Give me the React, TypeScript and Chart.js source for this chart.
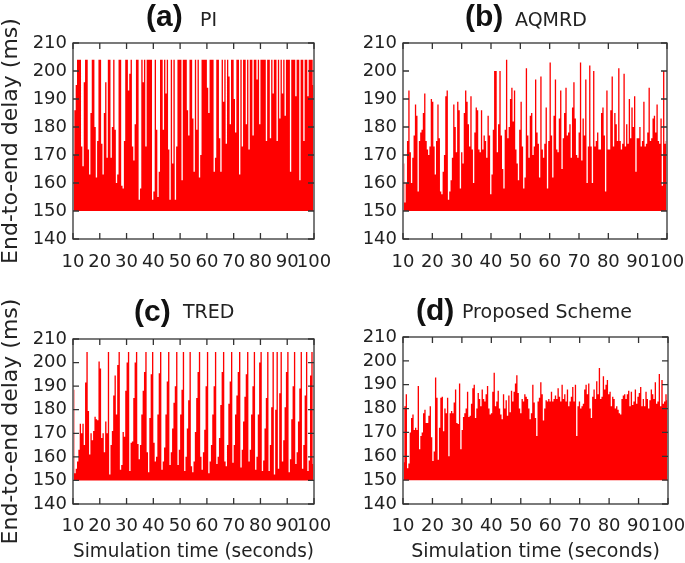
import React, { useEffect, useRef } from "react";
import { Chart, registerables } from "chart.js";

Chart.register(...registerables);

// ---- axes ----
const X_MIN = 10;
const X_MAX = 100;
const Y_MIN = 140;
const Y_MAX = 210;
const X_TICKS = [10, 20, 30, 40, 50, 60, 70, 80, 90, 100];
const Y_TICKS = [140, 150, 160, 170, 180, 190, 200, 210];
const BASE_DELAY = 150;

// ---- series: end-to-end delay (ms), evenly sampled over 10..100 s ----
const piDelay = [
  170, 186, 195, 204, 204, 204, 173, 166, 196, 204,
  204, 172, 163, 185, 204, 204, 180, 162, 175, 204,
  204, 174, 163, 185, 196, 169, 204, 204, 169, 180,
  204, 179, 160, 163, 204, 204, 159, 158, 175, 204,
  204, 193, 199, 204, 173, 168, 181, 204, 204, 154,
  158, 204, 196, 204, 173, 204, 204, 204, 204, 154,
  157, 204, 179, 155, 164, 204, 204, 179, 204, 192,
  204, 172, 154, 204, 167, 204, 154, 173, 204, 204,
  204, 161, 204, 204, 204, 186, 177, 204, 204, 183,
  164, 204, 179, 204, 162, 170, 204, 204, 204, 204,
  194, 185, 204, 204, 204, 164, 169, 204, 204, 176,
  164, 204, 189, 204, 174, 204, 198, 181, 204, 204,
  190, 178, 204, 204, 163, 204, 173, 204, 204, 181,
  204, 172, 204, 204, 177, 204, 204, 197, 204, 181,
  204, 204, 204, 204, 175, 204, 204, 176, 204, 192,
  204, 204, 175, 204, 183, 204, 192, 204, 184, 204,
  204, 204, 164, 204, 204, 204, 191, 204, 204, 161,
  204, 204, 175, 204, 204, 191, 204, 204, 204, 195,
];

const aqmrdDelay = [
  167, 153, 160, 175, 193, 171, 160, 169, 177, 188,
  184, 157, 175, 178, 179, 185, 192, 175, 172, 170,
  173, 190, 189, 173, 163, 175, 188, 176, 157, 156,
  164, 170, 191, 193, 154, 157, 161, 169, 188, 180,
  171, 189, 186, 158, 171, 167, 185, 193, 189, 181,
  173, 191, 172, 160, 178, 187, 186, 172, 171, 186,
  172, 177, 175, 169, 184, 177, 156, 163, 179, 200,
  200, 171, 181, 200, 177, 165, 158, 179, 204, 176,
  180, 190, 194, 182, 193, 172, 167, 161, 179, 189,
  173, 158, 162, 201, 177, 169, 184, 185, 170, 173,
  197, 178, 174, 162, 198, 172, 169, 174, 187, 158,
  175, 203, 177, 162, 184, 197, 172, 171, 183, 193,
  165, 176, 185, 194, 177, 178, 181, 169, 187, 196,
  183, 170, 169, 178, 203, 168, 183, 177, 197, 160,
  173, 202, 173, 160, 200, 173, 175, 178, 172, 172,
  185, 187, 177, 157, 193, 172, 172, 186, 198, 173,
  185, 181, 175, 201, 175, 172, 174, 199, 173, 181,
  174, 190, 176, 187, 180, 191, 164, 176, 176, 180,
  173, 175, 189, 173, 174, 178, 194, 175, 176, 183,
  184, 178, 188, 175, 174, 183, 159, 200, 174, 175,
];

const tredDelay = [
  188.5, 153, 155, 158, 163, 174, 170, 174, 165, 191.5,
  204.5, 179.5, 161, 170, 167, 171, 177, 176, 175.5, 200.5,
  197.5, 168, 170, 162, 175, 170, 204.5, 152.5, 165, 171,
  186, 194.5, 178, 199, 204.5, 154.5, 156.5, 170.5, 168.5, 188,
  200, 204.5, 154, 166, 166.5, 185, 200, 204.5, 165.5, 159,
  165, 178, 188, 196, 204.5, 162, 153.5, 176.5, 195, 204.5,
  166, 158, 160, 178, 195.5, 204.5, 154.5, 158, 164, 178,
  192, 204.5, 156.5, 162, 172, 183, 190, 204.5, 156.5, 163,
  178, 188.5, 204.5, 154, 160, 172, 184, 204.5, 156, 153.5,
  158, 170.5, 185, 196, 204.5, 160, 154.5, 162, 171.5, 190,
  204.5, 153, 158, 165, 178, 190, 204.5, 157, 160, 168,
  182, 196, 204.5, 158, 156, 165, 182.5, 192, 204.5, 157.5,
  165, 178, 186, 196, 204.5, 155.5, 163, 175, 185.5, 195,
  204.5, 158, 163, 178, 190, 204.5, 154.5, 160, 178, 200,
  204.5, 154, 158.5, 172, 185, 204.5, 154, 165, 181, 204.5,
  152.5, 180, 204.5, 155, 187, 204.5, 158, 167, 181, 196,
  204.5, 153.5, 159, 176, 190, 204.5, 157, 162, 175, 189,
  204.5, 155, 165, 186, 204.5, 154, 158.5, 194.5, 204.5, 157,
];

const proposedDelay = [
  157.5, 181, 186, 155, 157, 170, 176, 177.5, 171, 172,
  171, 189.5, 163, 168.5, 170, 178, 179.5, 174, 174, 177,
  181, 168, 158, 162, 193, 184.5, 158.5, 172, 184.5, 185,
  170.5, 180, 178, 184.5, 160, 178, 179, 178, 182.5, 188,
  174, 173.5, 190.5, 163, 171, 176.5, 178, 180, 187, 176.5,
  177, 182, 188.5, 190, 176, 180, 186.5, 184, 181, 188,
  184, 183, 186, 189.5, 180, 177.5, 178, 187, 195, 181,
  183, 187.5, 180, 177.5, 175.5, 186, 180, 183.5, 177, 185.5,
  178.5, 187.5, 183, 187, 190.5, 194, 186.5, 180, 178, 184,
  183, 186, 185, 184, 180, 175.5, 178, 190, 182.5, 176,
  168.5, 183, 184.5, 191, 186, 175, 180, 183.5, 183, 184,
  183, 187, 183, 184, 185.5, 184, 188.5, 185, 183, 190,
  184, 186, 183, 188, 181, 183, 185, 189, 183, 190,
  168.5, 181, 183, 180, 181, 182, 188, 190, 186, 190.5,
  180, 176, 185, 188, 184, 191.5, 186, 197, 184, 185,
  193.5, 188, 190, 192, 186, 187, 181, 185, 184, 180,
  181, 179.5, 178, 177.5, 184, 185.5, 186, 184, 186, 187.5,
  181, 187, 181.5, 183, 188, 182, 185, 186.5, 189, 181,
  184, 181, 187, 184, 180, 183.5, 188, 186, 184, 191,
  182, 183, 194.5, 181, 192, 182, 183, 186, 183.5,
];

const Y_TITLE = "End-to-end delay (ms)";
const X_TITLE = "Simulation time (seconds)";

const FONT = "'DejaVu Sans', 'Liberation Sans', sans-serif";
const BOLD_FONT = "'Liberation Sans', Arial, sans-serif";
const TEXT = "#222";
const RED = "#ff0000";

const frameTicksPlugin = {
  id: "frameTicks",
  afterDatasetsDraw(chart: any) {
    const { ctx, chartArea, scales } = chart;
    const { left, right, top, bottom } = chartArea;
    const x = scales.x;
    const y = scales.y;
    const tl = 6;
    ctx.save();
    ctx.strokeStyle = "#333";
    ctx.lineWidth = 1.3;
    ctx.beginPath();
    X_TICKS.forEach((v) => {
      const px = x.getPixelForValue(v);
      ctx.moveTo(px, bottom);
      ctx.lineTo(px, bottom - tl);
      ctx.moveTo(px, top);
      ctx.lineTo(px, top + tl);
    });
    Y_TICKS.forEach((v) => {
      const py = y.getPixelForValue(v);
      ctx.moveTo(left, py);
      ctx.lineTo(left + tl, py);
      ctx.moveTo(right, py);
      ctx.lineTo(right - tl, py);
    });
    ctx.stroke();
    ctx.strokeRect(left, top, right - left, bottom - top);
    ctx.restore();
  },
};

type PanelProps = {
  values: number[];
  left: number;
  top: number;
  width: number;
  height: number;
  pad: { left: number; top: number; right: number; bottom: number };
  yWidth: number;
  xHeight: number;
  xPad: number;
  showYTitle: boolean;
  showXTitle: boolean;
};

function Panel(p: PanelProps) {
  const ref = useRef<HTMLCanvasElement | null>(null);
  useEffect(() => {
    if (!ref.current) return;
    const step = (X_MAX - X_MIN) / p.values.length;
    const points = p.values.map((v, i) => ({ x: X_MIN + (i + 0.5) * step, y: v }));
    const chart = new Chart(ref.current, {
      type: "line",
      data: {
        datasets: [
          {
            data: points,
            stepped: "middle",
            fill: { value: BASE_DELAY },
            backgroundColor: RED,
            borderColor: RED,
            borderWidth: 0,
            pointRadius: 0,
            pointHoverRadius: 0,
          } as any,
        ],
      },
      options: {
        animation: false,
        responsive: false,
        maintainAspectRatio: false,
        events: [],
        layout: { padding: p.pad },
        plugins: {
          legend: { display: false },
          tooltip: { enabled: false },
        },
        scales: {
          x: {
            type: "linear",
            min: X_MIN,
            max: X_MAX,
            grid: { display: false, drawTicks: false },
            border: { display: false },
            ticks: {
              stepSize: 10,
              autoSkip: false,
              maxRotation: 0,
              minRotation: 0,
              padding: p.xPad,
              color: TEXT,
              font: { family: FONT, size: 18 },
            },
            title: {
              display: p.showXTitle,
              text: X_TITLE,
              color: TEXT,
              padding: 0,
              font: { family: FONT, size: 19, lineHeight: 1.2 },
            },
            afterFit: (s: any) => {
              s.height = p.xHeight;
              s.paddingLeft = 0;
              s.paddingRight = 0;
            },
          },
          y: {
            type: "linear",
            min: Y_MIN,
            max: Y_MAX,
            grid: { display: false, drawTicks: false },
            border: { display: false },
            ticks: {
              stepSize: 10,
              autoSkip: false,
              padding: 6,
              color: TEXT,
              font: { family: FONT, size: 18 },
            },
            title: {
              display: p.showYTitle,
              text: Y_TITLE,
              color: TEXT,
              padding: 0,
              font: { family: FONT, size: 22, lineHeight: 1 },
            },
            afterFit: (s: any) => {
              s.width = p.yWidth;
              s.paddingTop = 0;
              s.paddingBottom = 0;
            },
          },
        },
      } as any,
      plugins: [frameTicksPlugin],
    });
    return () => chart.destroy();
  }, []);
  return (
    <canvas
      ref={ref}
      width={p.width}
      height={p.height}
      style={{ position: "absolute", left: p.left, top: p.top, width: p.width, height: p.height }}
    />
  );
}

const boldStyle: React.CSSProperties = {
  position: "absolute",
  fontFamily: BOLD_FONT,
  fontWeight: "bold",
  fontSize: 30,
  lineHeight: 1,
  color: "#111",
  whiteSpace: "nowrap",
};
const normStyle: React.CSSProperties = {
  position: "absolute",
  fontFamily: FONT,
  fontSize: 19,
  lineHeight: 1,
  color: TEXT,
  whiteSpace: "nowrap",
};

export default function App() {
  return (
    <div style={{ position: "absolute", left: 0, top: 0, width: 685, height: 563, background: "#fff", overflow: "hidden" }}>
      <Panel values={piDelay} left={0} top={0} width={342} height={280}
        pad={{ left: 0, top: 43, right: 28, bottom: 11 }} yWidth={73} xHeight={30} xPad={13}
        showYTitle={true} showXTitle={false} />
      <Panel values={aqmrdDelay} left={343} top={0} width={342} height={280}
        pad={{ left: 0, top: 43, right: 18, bottom: 11 }} yWidth={60} xHeight={30} xPad={13}
        showYTitle={false} showXTitle={false} />
      <Panel values={tredDelay} left={0} top={280} width={342} height={283}
        pad={{ left: 0, top: 59, right: 28, bottom: 0 }} yWidth={73} xHeight={59} xPad={12}
        showYTitle={true} showXTitle={true} />
      <Panel values={proposedDelay} left={343} top={280} width={342} height={283}
        pad={{ left: 0, top: 57, right: 17, bottom: 0 }} yWidth={60} xHeight={59} xPad={12}
        showYTitle={false} showXTitle={true} />

      <span style={{ ...boldStyle, left: 146, top: 1 }}>(a)</span>
      <span style={{ ...normStyle, left: 200, top: 10 }}>PI</span>
      <span style={{ ...boldStyle, left: 465, top: 1 }}>(b)</span>
      <span style={{ ...normStyle, left: 515, top: 10 }}>AQMRD</span>
      <span style={{ ...boldStyle, left: 134, top: 296 }}>(c)</span>
      <span style={{ ...normStyle, left: 183, top: 302 }}>TRED</span>
      <span style={{ ...boldStyle, left: 416, top: 295 }}>(d)</span>
      <span style={{ ...normStyle, left: 462, top: 302 }}>Proposed Scheme</span>
    </div>
  );
}
